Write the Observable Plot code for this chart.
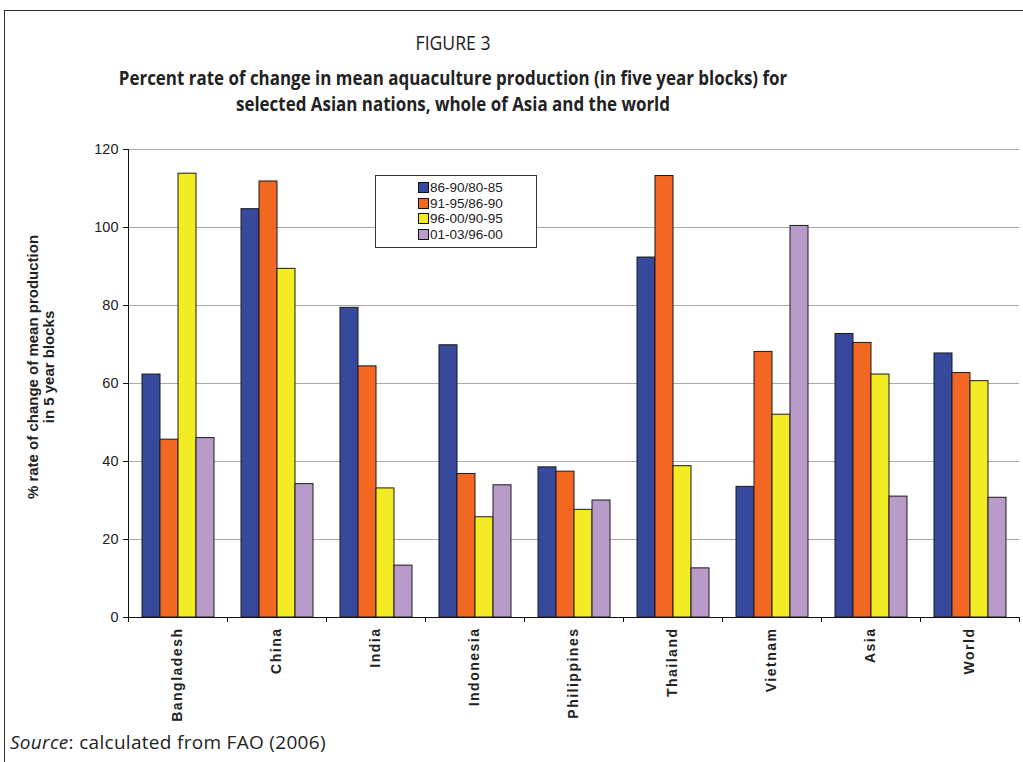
<!DOCTYPE html>
<html><head><meta charset="utf-8">
<script src="https://cdn.jsdelivr.net/npm/d3@7"></script>
<script src="https://cdn.jsdelivr.net/npm/@observablehq/plot@0.6"></script>
<style>
body{margin:0;background:#fff;overflow:hidden;}
#wrap{position:relative;width:1023px;height:762px;overflow:hidden;font-family:"Liberation Sans",Arial,sans-serif;color:#222;}
#frame{position:absolute;left:4px;top:10px;width:1100px;height:800px;border:1.5px solid #333;box-sizing:border-box;}
.t{position:absolute;left:0;width:906px;text-align:center;font-family:"Open Sans",sans-serif;white-space:nowrap;transform-origin:453px 0;}
#fig{top:29px;font-size:20px;transform:scaleX(0.88);}
#title{top:65px;font-size:20px;font-weight:bold;line-height:26px;transform:scaleX(0.847);}
#source{position:absolute;left:10px;top:729px;font-size:19px;letter-spacing:0.3px;font-family:"Open Sans",sans-serif;}
#ytitle{position:absolute;left:-109px;top:351px;width:300px;height:32px;transform:rotate(-90deg);text-align:center;font-weight:bold;font-size:15px;line-height:16px;}
#legend{position:absolute;left:375px;top:175px;width:162px;height:73px;box-sizing:border-box;border:1px solid #333;background:#fff;padding-top:4px;}
.row{height:15.6px;line-height:15.6px;font-size:13.5px;padding-left:42px;white-space:nowrap;}
.sw{display:inline-block;width:9px;height:9px;border:1px solid #111;margin-right:1px;vertical-align:-1px;}
#chart{position:absolute;left:0;top:130px;}
</style></head>
<body><div id="wrap">
<div id="frame"></div>
<div class="t" id="fig">FIGURE 3</div>
<div class="t" id="title">Percent rate of change in mean aquaculture production (in five year blocks) for<br>selected Asian nations, whole of Asia and the world</div>
<div id="ytitle">% rate of change of mean production<br>in 5 year blocks</div>
<div id="chart"></div>
<div id="legend"></div>
<div id="source"><i>Source</i>: calculated from FAO (2006)</div>
</div>
<script>
const countries = ["Bangladesh","China","India","Indonesia","Philippines","Thailand","Vietnam","Asia","World"];
const periods = ["86-90/80-85","91-95/86-90","96-00/90-95","01-03/96-00"];
const v8690 = [62.3,104.7,79.4,69.8,38.5,92.3,33.5,72.7,67.7];
const v9195 = [45.6,111.8,64.4,36.8,37.4,113.2,68.1,70.4,62.7];
const v9600 = [113.8,89.4,33.1,25.7,27.6,38.8,52.0,62.3,60.6];
const v0103 = [46.0,34.2,13.3,33.9,30.0,12.6,100.4,31.0,30.7];
const colors = ["#36499c","#f26722","#f3ec25","#b99bc9"];
const yTicks = [0,20,40,60,80,100,120];

const series = [v8690, v9195, v9600, v0103];
const data = [];
countries.forEach((c, i) => periods.forEach((p, j) => data.push({country: c, period: p, value: series[j][i]})));

const chart = Plot.plot({
  width: 1023, height: 600,
  marginTop: 19, marginBottom: 113, marginLeft: 128, marginRight: 4,
  style: {fontFamily: "'Liberation Sans', Arial, sans-serif", fontSize: "13px", color: "#222", background: "transparent", overflow: "visible"},
  fx: {domain: countries, padding: 0, axis: null},
  x: {domain: periods, paddingInner: 0, paddingOuter: 0.72, axis: null},
  y: {domain: [0, 120], axis: null},
  color: {domain: periods, range: colors},
  marks: [
    Plot.gridY(yTicks, {stroke: "#a9a9a9", strokeOpacity: 1, strokeWidth: 1}),
    Plot.barY(data, {fx: "country", x: "period", y: "value", fill: "period", stroke: "#1a1a1a", strokeWidth: 1}),
    Plot.axisY(yTicks, {tickSize: 5, tickPadding: 5, fontSize: 14.5, label: null, stroke: "#111"}),
    Plot.axisFx({anchor: "bottom", tickSize: 0, tickRotate: -90, tickPadding: 10, fontWeight: "bold", fontSize: 14, label: null})
  ]
});
document.getElementById("chart").appendChild(chart);
d3.select(chart).selectAll("text").filter(function() { return countries.includes(this.textContent); }).style("letter-spacing", "1.5px");

// axis lines and category separators, from the plot's own scales
const fxs = chart.scale("fx"), ys = chart.scale("y");
let fxApply;
if (fxs.apply) fxApply = fxs.apply; else {
  fxApply = d3.scaleBand(fxs.domain, fxs.range).paddingInner(fxs.paddingInner || 0).paddingOuter(fxs.paddingOuter || 0).align(fxs.align ?? 0.5);
}
const yApply = ys.apply ? ys.apply : d3.scaleLinear(ys.domain, ys.range);
const bw = fxs.bandwidth;
const x0 = fxApply(countries[0]);
const xs = countries.map(c => fxApply(c)).concat([fxApply(countries[countries.length - 1]) + bw]);
const y0 = yApply(0), yTop = yApply(120);
const g = d3.select(chart).append("g").attr("stroke", "#111").attr("stroke-width", 1).attr("shape-rendering", "crispEdges");
g.append("line").attr("x1", x0).attr("x2", x0).attr("y1", yTop).attr("y2", y0);
g.append("line").attr("x1", xs[0]).attr("x2", xs[xs.length - 1]).attr("y1", y0).attr("y2", y0);
xs.forEach(x => g.append("line").attr("x1", x).attr("x2", x).attr("y1", y0).attr("y2", y0 + 5));

// legend
const leg = document.getElementById("legend");
periods.forEach((p, j) => {
  const r = document.createElement("div"); r.className = "row";
  r.innerHTML = `<span class="sw" style="background:${colors[j]}"></span>${p}`;
  leg.appendChild(r);
});
</script>
</body></html>
